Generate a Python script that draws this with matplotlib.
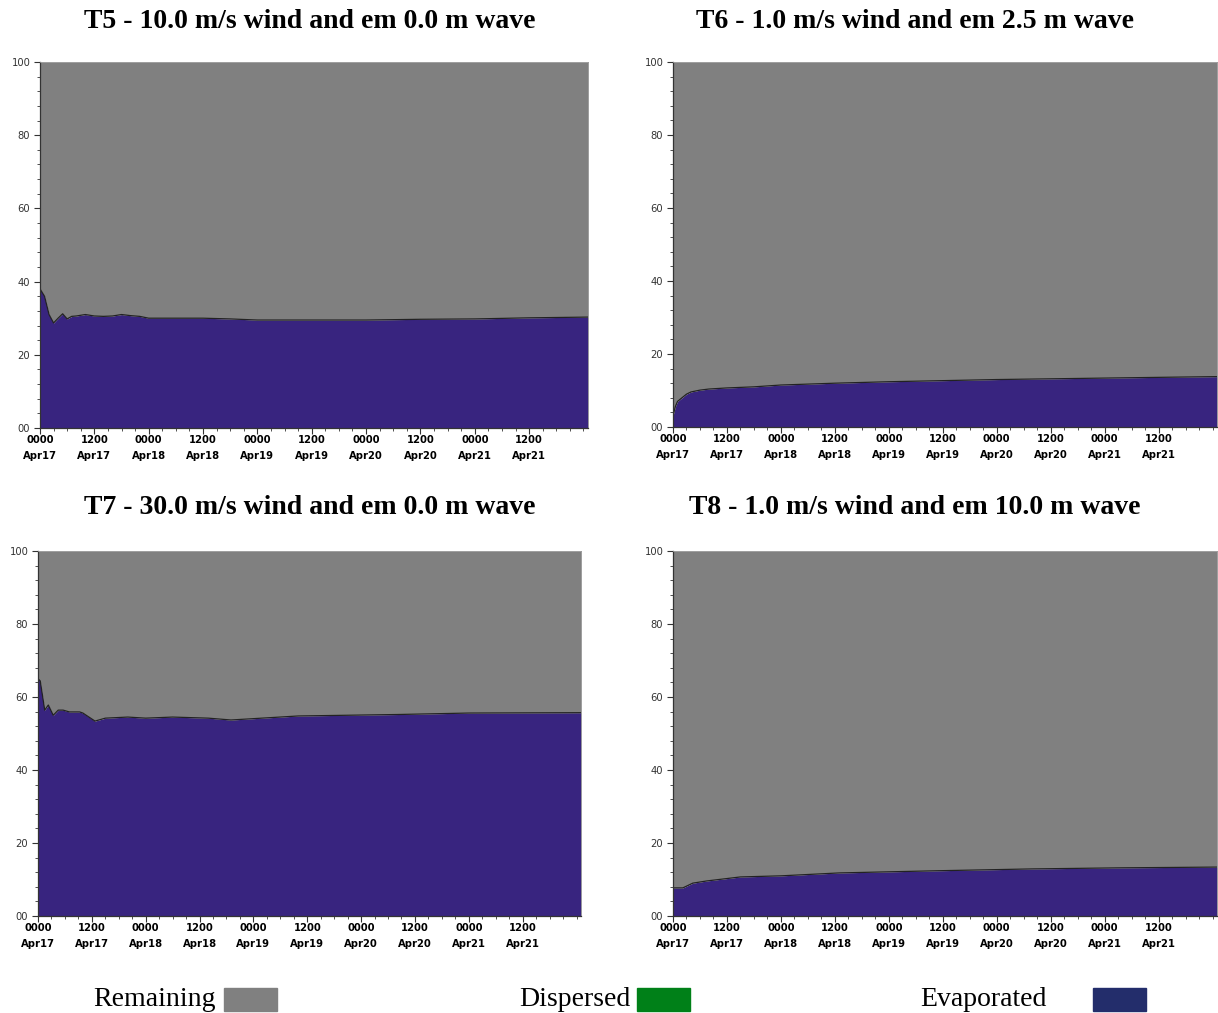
import numpy as np
import matplotlib
matplotlib.use('Agg')
import matplotlib.pyplot as plt
from matplotlib.patches import Rectangle
from matplotlib.ticker import MultipleLocator

# 时间 (小时, 从 Apr17 0000 起)
t5_hours = [0, 1, 2, 3, 4, 5, 6, 7, 8, 10, 12, 14, 16, 18, 20, 22, 24, 30, 36, 42, 48, 60, 72, 84, 96, 108, 121]
t5_evap = [38, 36, 31, 28.7, 30, 31.2, 29.8, 30.5, 30.6, 31, 30.6, 30.5, 30.6, 31, 30.7, 30.5, 30,
           30, 30, 29.8, 29.5, 29.5, 29.5, 29.7, 29.8, 30.1, 30.3]

t6_hours = [0, 0.5, 1, 2, 3, 4, 6, 8, 12, 18, 24, 36, 48, 60, 72, 84, 96, 108, 121]
t6_evap = [3, 5.5, 7, 8, 9, 9.6, 10.1, 10.4, 10.7, 11, 11.5, 12, 12.4, 12.7, 13, 13.2, 13.4, 13.6, 13.8]

t7_hours = [0, 0.5, 1.5, 2.3, 3.4, 4.5, 5.6, 7, 9.3, 10, 12.7, 15, 20, 24, 30, 38, 43, 58, 80, 96, 121]
t7_evap = [65, 64.4, 56.4, 57.8, 55, 56.4, 56.4, 55.9, 55.9, 55.6, 53.4, 54.2, 54.5, 54.2, 54.5,
           54.2, 53.7, 54.8, 55.2, 55.6, 55.7]

t8_hours = [0, 2.2, 4.4, 7.5, 15, 24, 37, 59, 80, 100, 121]
t8_evap = [7.7, 7.7, 9, 9.6, 10.7, 11, 11.8, 12.4, 12.9, 13.2, 13.4]

titles = ['T5 - 10.0 m/s wind and em 0.0 m wave',
          'T6 - 1.0 m/s wind and em 2.5 m wave',
          'T7 - 30.0 m/s wind and em 0.0 m wave',
          'T8 - 1.0 m/s wind and em 10.0 m wave']

tick_hours = list(range(0, 120, 12))
tick_labels = ['0000\nApr17', '1200\nApr17', '0000\nApr18', '1200\nApr18', '0000\nApr19',
               '1200\nApr19', '0000\nApr20', '1200\nApr20', '0000\nApr21', '1200\nApr21']
y_ticks = [0, 20, 40, 60, 80, 100]
y_labels = ['00', '20', '40', '60', '80', '100']

legend_names = ['Remaining', 'Dispersed', 'Evaporated']

c_remain = '#808080'
c_evap = '#38247F'
c_disp = '#008018'
c_evap_legend = '#232D6B'

W, H = 1218, 1013
fig = plt.figure(figsize=(W / 100, H / 100), dpi=100)

# 像素坐标 (left, top, right, bottom)
boxes = [(40, 62, 588, 428), (673, 62, 1217, 427), (38, 551, 581, 916), (673, 551, 1217, 916)]
title_pos = [(310, 22), (915, 22), (310, 508), (915, 508)]
data = [(t5_hours, t5_evap), (t6_hours, t6_evap), (t7_hours, t7_evap), (t8_hours, t8_evap)]

for (l, t, r, b), (tx, ty), title, (hx, ev) in zip(boxes, title_pos, titles, data):
    ax = fig.add_axes([l / W, 1 - b / H, (r - l) / W, (b - t) / H])
    hx = np.array(hx, dtype=float)
    ev = np.array(ev, dtype=float)
    ax.fill_between(hx, 0, ev, color=c_evap, linewidth=0)
    ax.fill_between(hx, ev, 100, color=c_remain, linewidth=0)
    ax.plot(hx, ev, color='#222222', linewidth=0.9)
    ax.set_xlim(0, 121)
    ax.set_ylim(0, 100)
    ax.set_xticks(tick_hours)
    ax.set_xticklabels(tick_labels, fontsize=7.2, fontweight='bold', family='DejaVu Sans',
                       linespacing=1.7)
    ax.set_yticks(y_ticks)
    ax.set_yticklabels(y_labels, fontsize=7.2, color='#333333')
    ax.xaxis.set_minor_locator(MultipleLocator(3))
    ax.yaxis.set_minor_locator(MultipleLocator(4))
    ax.tick_params(axis='both', which='major', direction='out', length=4, width=0.8, color='#333333')
    ax.tick_params(axis='both', which='minor', direction='out', length=2, width=0.6, color='#333333')
    ax.tick_params(axis='x', pad=1)
    ax.tick_params(axis='y', pad=3)
    for side in ['top', 'right']:
        ax.spines[side].set_color('#999999')
        ax.spines[side].set_linewidth(0.6)
    for side in ['left', 'bottom']:
        ax.spines[side].set_color('#333333')
        ax.spines[side].set_linewidth(0.9)
    fig.text(tx / W, 1 - ty / H, title, ha='center', va='center', fontsize=20,
             fontweight='bold', family='Liberation Serif')

# 底部图例
legend_text_right = [216, 630, 1047]
legend_box_left = [224, 637, 1093]
legend_colors = [c_remain, c_disp, c_evap_legend]
for name, xr, xb, col in zip(legend_names, legend_text_right, legend_box_left, legend_colors):
    fig.text(xr / W, 1 - 999 / H, name, ha='right', va='center', fontsize=20,
             family='Liberation Serif')
    fig.patches.append(Rectangle((xb / W, 1 - 1011 / H), 53 / W, 23 / H,
                                 transform=fig.transFigure, color=col, figure=fig))

plt.savefig('out.png', dpi=100)
